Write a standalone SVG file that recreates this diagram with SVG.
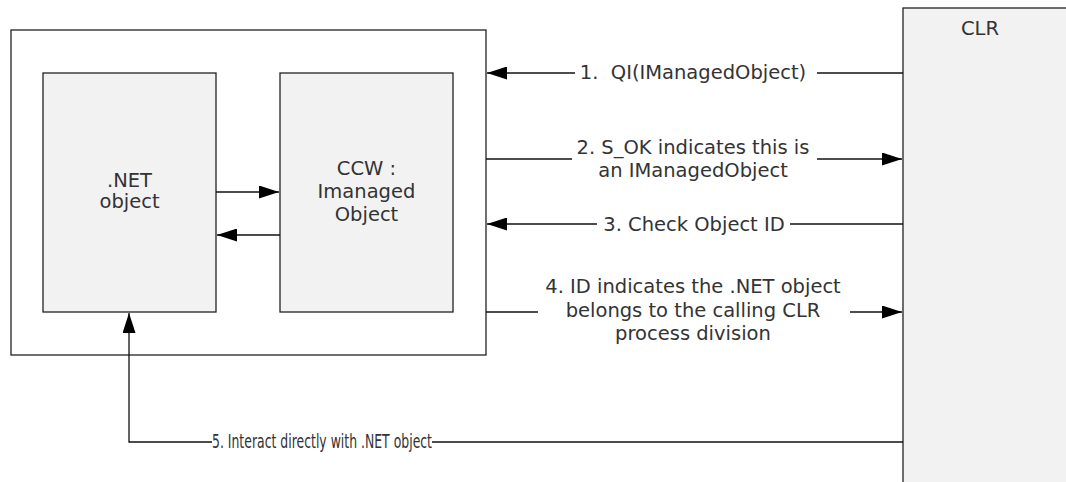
<svg xmlns="http://www.w3.org/2000/svg" width="1066" height="482" viewBox="0 0 1066 482">
<style>
.box{fill:#f2f2f2;stroke:#222;stroke-width:1.3}
.frame{fill:#fff;stroke:#222;stroke-width:1.3}
.ln{fill:none;stroke:#111;stroke-width:1.3}
.t{font-family:"DejaVu Sans",Verdana,sans-serif;font-size:19.5px;fill:#333;text-anchor:middle}
</style>
<defs>
<marker id="ah" viewBox="0 0 20 13" refX="20" refY="6.5" markerWidth="20" markerHeight="13" markerUnits="userSpaceOnUse" orient="auto">
<path d="M0,0 L20,6.5 L0,13 Z" fill="#000"/>
</marker>
</defs>
<rect width="1066" height="482" fill="#fff"/>
<g id="container"><rect class="frame" x="11" y="30" width="475" height="325"/></g>
<g id="net"><rect class="box" x="43" y="73" width="173" height="239"/>
<text class="t" x="129.5" y="187">.NET</text><text class="t" x="129.5" y="208">object</text></g>
<g id="ccw"><rect class="box" x="280" y="73" width="173" height="239"/>
<text class="t" x="366.5" y="175">CCW :</text><text class="t" x="366.5" y="198">Imanaged</text><text class="t" x="366.5" y="221">Object</text></g>
<g id="clr"><rect class="box" x="903" y="8" width="170" height="490"/>
<text class="t" x="980" y="35">CLR</text></g>
<g id="connectors">
<line class="ln" x1="216" y1="192" x2="279" y2="192" marker-end="url(#ah)"/>
<line class="ln" x1="280" y1="235" x2="217" y2="235" marker-end="url(#ah)"/>
<line class="ln" x1="903" y1="73" x2="817" y2="73"/>
<line class="ln" x1="575" y1="73" x2="487" y2="73" marker-end="url(#ah)"/>
<text class="t" x="693" y="79" xml:space="preserve">1.  QI(IManagedObject)</text>
<line class="ln" x1="486" y1="159" x2="572" y2="159"/>
<line class="ln" x1="817" y1="159" x2="902" y2="159" marker-end="url(#ah)"/>
<text class="t" x="693" y="154">2. S_OK indicates this is</text>
<text class="t" x="693" y="177">an IManagedObject</text>
<line class="ln" x1="903" y1="224" x2="790" y2="224"/>
<line class="ln" x1="597" y1="224" x2="487" y2="224" marker-end="url(#ah)"/>
<text class="t" x="694" y="231">3. Check Object ID</text>
<line class="ln" x1="486" y1="312" x2="538" y2="312"/>
<line class="ln" x1="850" y1="312" x2="902" y2="312" marker-end="url(#ah)"/>
<text class="t" x="693" y="293">4. ID indicates the .NET object</text>
<text class="t" x="693" y="317">belongs to the calling CLR</text>
<text class="t" x="693" y="340">process division</text>
<line class="ln" x1="903" y1="442" x2="432" y2="442"/>
<polyline class="ln" points="212,442 129,442 129,313" marker-end="url(#ah)"/>
<text class="t" x="322" y="448" textLength="220" lengthAdjust="spacingAndGlyphs">5. Interact directly with .NET object</text>
</g>
</svg>
